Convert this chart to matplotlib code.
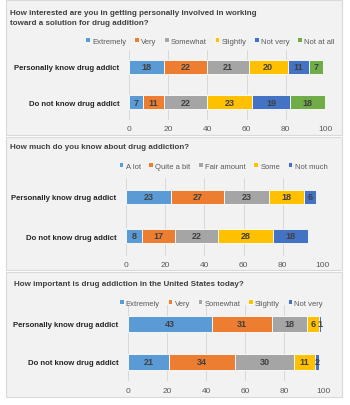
import numpy as np
import matplotlib.pyplot as plt
from matplotlib.patches import Rectangle

plt.rcParams['font.family'] = ['Liberation Sans', 'DejaVu Sans']

groups = ['Personally know drug addict', 'Do not know drug addict']

title_1 = 'How interested are you in getting personally involved in working\ntoward a solution for drug addition?'
cats_1 = ['Extremely', 'Very', 'Somewhat', 'Slightly', 'Not very', 'Not at all']
know_1 = [18, 22, 21, 20, 11, 7]
dont_1 = [7, 11, 22, 23, 19, 18]

title_2 = 'How much do you know about drug addiction?'
cats_2 = ['A lot', 'Quite a bit', 'Fair amount', 'Some', 'Not much']
know_2 = [23, 27, 23, 18, 6]
dont_2 = [8, 17, 22, 28, 18]

title_3 = 'How important is drug addiction in the United States today?'
cats_3 = ['Extremely', 'Very', 'Somewhat', 'Slightly', 'Not very']
know_3 = [43, 31, 18, 6, 1]
dont_3 = [21, 34, 30, 11, 2]

xticks = [0, 20, 40, 60, 80, 100]
colors = ['#5B9BD5', '#ED7D31', '#A5A5A5', '#FFC000', '#4472C4', '#70AD47']

W, H = 350, 406
fig = plt.figure(figsize=(W / 100, H / 100), dpi=100)
fig.patch.set_facecolor('white')


def fx(x):
    return x / W


def fy(y):
    return 1 - y / H


def panel(top, bottom):
    fig.patches.append(Rectangle((fx(6), fy(bottom)), fx(336), (bottom - top) / H,
                                 transform=fig.transFigure, facecolor='#f2f2f2',
                                 edgecolor='#d9d9d9', linewidth=0.8, zorder=-5))


def chart(title, title_xy, cats, know, dont, ax_box, bar_h, legend_xy):
    left, right, top, bottom = ax_box
    ax = fig.add_axes([fx(left), fy(bottom), (right - left) / W, (bottom - top) / H])
    ax.set_facecolor('none')
    ylist = [0, 1]
    lefts = np.zeros(2)
    for i, c in enumerate(cats):
        vals = np.array([know[i], dont[i]])
        bars = ax.barh(ylist, vals, left=lefts, height=bar_h, color=colors[i],
                       edgecolor='white', linewidth=0.6, label=c, zorder=3)
        ax.bar_label(bars, labels=[str(v) for v in vals], label_type='center',
                     fontsize=6.5, fontweight='bold', color='#404040')
        lefts += vals
    ax.set_xlim(0, 100)
    ax.set_ylim(1.5, -0.5)
    ax.set_xticks(xticks)
    ax.set_yticks(ylist)
    ax.set_yticklabels(groups, fontsize=5.6, fontweight='bold', color='#262626')
    ax.tick_params(axis='x', length=0, pad=4, labelsize=6, labelcolor='#595959')
    ax.tick_params(axis='y', length=0, pad=7)
    for s in ax.spines.values():
        s.set_visible(False)
    ax.grid(axis='x', color='#d9d9d9', linewidth=0.7, zorder=0)
    ax.set_axisbelow(True)
    fig.text(fx(title_xy[0]), fy(title_xy[1]), title, fontsize=5.8, fontweight='bold',
             color='#404040', ha='left', va='top', linespacing=1.6)
    ax.legend(loc='center', bbox_to_anchor=(fx(legend_xy[0]), fy(legend_xy[1])),
              bbox_transform=fig.transFigure, ncol=len(cats), frameon=False,
              fontsize=5.5, labelcolor='#595959', handlelength=0.6, handleheight=0.6,
              handletextpad=0.3, columnspacing=1.0, borderpad=0)


panel(1, 136)
panel(138, 271)
panel(273, 398)

chart(title_1, (10, 10), cats_1, know_1, dont_1, (129, 325, 50.5, 120.5), 0.4, (210, 42))
chart(title_2, (10, 144), cats_2, know_2, dont_2, (126, 322, 178.5, 256.5), 0.35, (223, 167))
chart(title_3, (14, 281), cats_3, know_3, dont_3, (128, 323, 306, 382), 0.4, (221, 304))

fig.savefig('out.png', dpi=100)
